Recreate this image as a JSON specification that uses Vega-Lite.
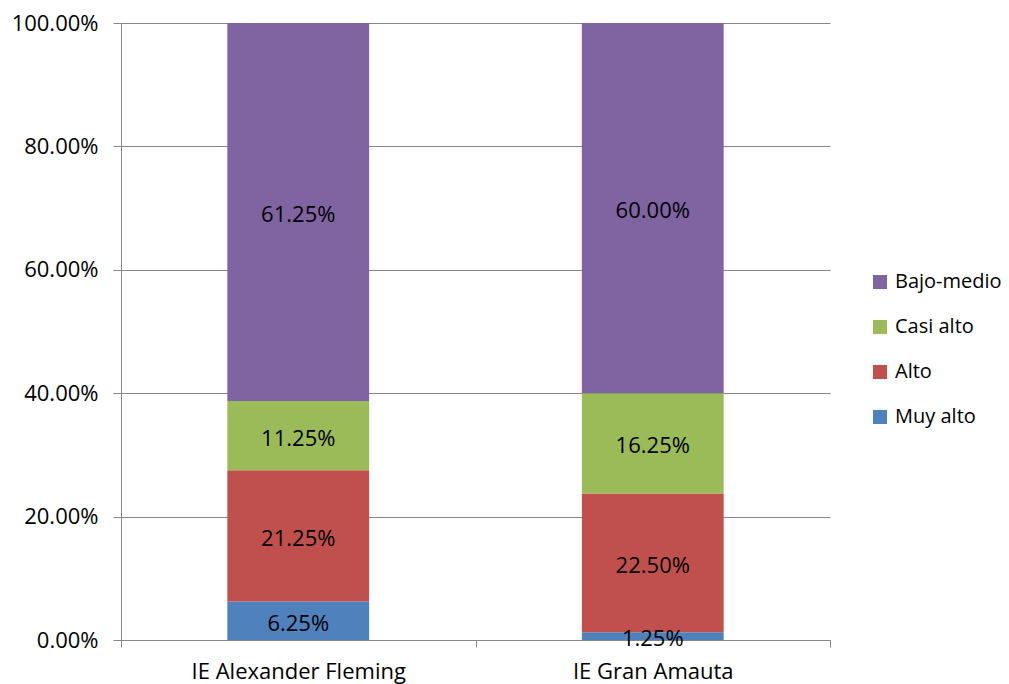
{
  "$schema": "https://vega.github.io/schema/vega-lite/v6.json",
  "width": 709,
  "height": 617,
  "autosize": "none",
  "padding": {"left": 121, "top": 23, "right": 179, "bottom": 44},
  "background": "white",
  "config": {"view": {"stroke": null}, "font": "Open Sans"},
  "data": {
    "values": [
      {"school": "IE Alexander Fleming", "level": "Muy alto", "order": 1, "value": 0.0625},
      {"school": "IE Alexander Fleming", "level": "Alto", "order": 2, "value": 0.2125},
      {"school": "IE Alexander Fleming", "level": "Casi alto", "order": 3, "value": 0.1125},
      {"school": "IE Alexander Fleming", "level": "Bajo-medio", "order": 4, "value": 0.6125},
      {"school": "IE Gran Amauta", "level": "Muy alto", "order": 1, "value": 0.0125},
      {"school": "IE Gran Amauta", "level": "Alto", "order": 2, "value": 0.225},
      {"school": "IE Gran Amauta", "level": "Casi alto", "order": 3, "value": 0.1625},
      {"school": "IE Gran Amauta", "level": "Bajo-medio", "order": 4, "value": 0.6}
    ]
  },
  "transform": [
    {"stack": "value", "groupby": ["school"], "sort": [{"field": "order", "order": "ascending"}], "as": ["v0", "v1"]},
    {"calculate": "(datum.v0 + datum.v1) / 2", "as": "mid"}
  ],
  "encoding": {
    "x": {
      "field": "school",
      "type": "nominal",
      "sort": null,
      "scale": {"paddingInner": 0, "paddingOuter": 0},
      "axis": {
        "title": null,
        "tickBand": "extent",
        "domainColor": "#868686",
        "tickColor": "#868686",
        "tickSize": 7,
        "labelPadding": 14,
        "labelFontSize": 22,
        "labelFont": "Open Sans",
        "labelColor": "black",
        "labelAngle": 0,
        "labelLimit": 0,
        "grid": false
      }
    }
  },
  "layer": [
    {
      "mark": {"type": "bar", "width": {"band": 0.4}},
      "encoding": {
        "y": {
          "field": "v0",
          "type": "quantitative",
          "scale": {"domain": [0, 1], "nice": false},
          "axis": {
            "title": null,
            "format": ".2%",
            "values": [0, 0.2, 0.4, 0.6, 0.8, 1],
            "grid": true,
            "gridColor": "#868686",
            "domainColor": "#868686",
            "tickColor": "#868686",
            "tickSize": 8,
            "labelPadding": 15,
            "labelFontSize": 22,
            "labelFont": "Open Sans",
            "labelColor": "black"
          }
        },
        "y2": {"field": "v1"},
        "color": {
          "field": "level",
          "type": "nominal",
          "scale": {
            "domain": ["Muy alto", "Alto", "Casi alto", "Bajo-medio"],
            "range": ["#4F81BD", "#C0504D", "#9BBB59", "#8064A2"]
          },
          "legend": {
            "title": null,
            "orient": "none",
            "legendX": 749,
            "legendY": 249,
            "values": ["Bajo-medio", "Casi alto", "Alto", "Muy alto"],
            "symbolType": "square",
            "symbolSize": 196,
            "symbolStrokeWidth": 0,
            "symbolOpacity": 1,
            "labelFontSize": 20,
            "labelFont": "Open Sans",
            "labelColor": "black",
            "labelLimit": 0,
            "rowPadding": 25,
            "labelOffset": 5,
            "padding": 0
          }
        }
      }
    },
    {
      "mark": {"type": "text", "fontSize": 22, "font": "Open Sans", "color": "black", "dy": 3},
      "encoding": {
        "y": {"field": "mid", "type": "quantitative"},
        "text": {"field": "value", "type": "quantitative", "format": ".2%"}
      }
    }
  ]
}
